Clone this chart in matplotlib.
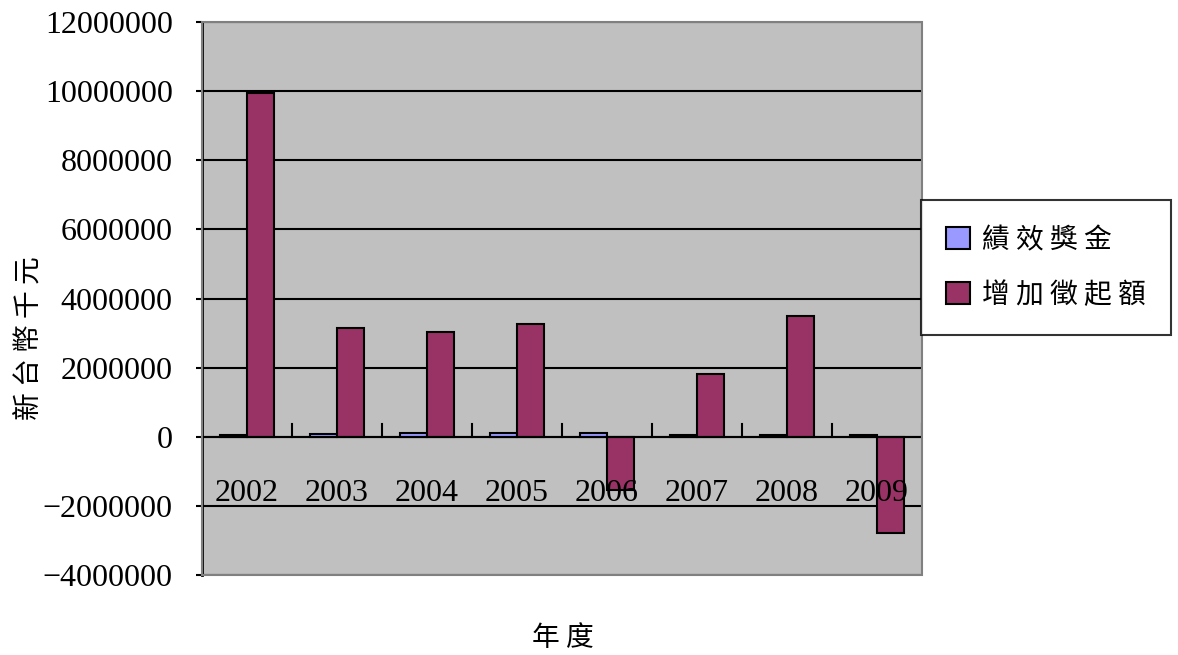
import matplotlib
matplotlib.use("Agg")
import matplotlib.pyplot as plt
import numpy as np
from matplotlib.patches import Rectangle
from matplotlib.transforms import offset_copy

years = ["2002", "2003", "2004", "2005", "2006", "2007", "2008", "2009"]
bonus = [40000, 90000, 100000, 100000, 110000, 40000, 50000, 40000]          # 績效獎金
extra_tax = [9950000, 3150000, 3040000, 3270000, -1530000, 1820000, 3500000, -2780000]  # 增加徵起額
yticks = list(range(-4000000, 12000001, 2000000))

CJK = ["Noto Sans CJK TC", "DejaVu Sans"]
SERIF = ["Liberation Serif", "DejaVu Serif"]


def spaced(s):
    # the original Ming font sets CJK glyphs with wide spacing
    return " ".join(s)


fig = plt.figure(figsize=(11.78, 6.55), dpi=100)
ax = fig.add_axes([202 / 1178, 1 - 575 / 655, 720 / 1178, 553 / 655])
ax.set_facecolor("#C0C0C0")
ax.set_axisbelow(True)

x = np.arange(len(years))
w = 0.3
ax.bar(x - w / 2, bonus, w, color="#9999FF", edgecolor="black", linewidth=1.5,
       label=spaced("績效獎金"), zorder=3)
ax.bar(x + w / 2, extra_tax, w, color="#993366", edgecolor="black", linewidth=1.5,
       label=spaced("增加徵起額"), zorder=3)

ax.set_xlim(-0.5, len(years) - 0.5)
ax.set_ylim(yticks[0], yticks[-1])
ax.set_yticks(yticks)
ax.set_yticklabels([f"{v}".replace("-", "\u2212") for v in yticks],
                   family=SERIF, fontsize=23)
ax.yaxis.grid(True, color="black", linewidth=1.5)
ax.tick_params(axis="y", direction="out", length=4, width=1.5, pad=17)

# category axis sits on the zero line, labels drawn on top of the bars
ax.axhline(0, color="black", linewidth=1.5, zorder=4)
ax.spines["bottom"].set_visible(False)
ax.set_xticks(np.arange(0.5, len(years)))
ax.set_xticklabels([])
ax.tick_params(axis="x", direction="in", length=0)
for xi in np.arange(0.5, len(years)):
    ax.plot([xi, xi], [0, 360000], color="black", linewidth=1.5, zorder=4)
lbl_tr = offset_copy(ax.transData, fig=fig, x=0, y=-42, units="dots")
for xi, yr in zip(x, years):
    ax.text(xi, 0, yr, transform=lbl_tr, ha="center", va="top",
            family=SERIF, fontsize=23, zorder=6)

ax.spines["left"].set_linewidth(2)
ax.spines["top"].set_visible(False)
ax.spines["right"].set_visible(False)
ax.add_patch(Rectangle((0, 0), 1, 1, transform=ax.transAxes, fill=False,
                       edgecolor="#808080", linewidth=1.5, zorder=5, clip_on=False))

leg = fig.legend(loc="upper left", bbox_to_anchor=(921 / 1178, 1 - 200 / 655),
                 bbox_transform=fig.transFigure, prop={"family": CJK, "size": 20},
                 frameon=True, fancybox=False, edgecolor="black",
                 handlelength=0.85, handleheight=0.85, handletextpad=0.45,
                 labelspacing=0.9, borderpad=0.9, borderaxespad=0)
leg.get_frame().set_linewidth(1.5)

fig.text(30 / 1178, 1 - 338 / 655, spaced("新台幣千元"), rotation=90,
         ha="center", va="center", family=CJK, fontsize=20)
fig.text(563 / 1178, 1 - 638 / 655, spaced("年度"), ha="center", va="center",
         family=CJK, fontsize=20)

fig.savefig("out.png", dpi=100)
